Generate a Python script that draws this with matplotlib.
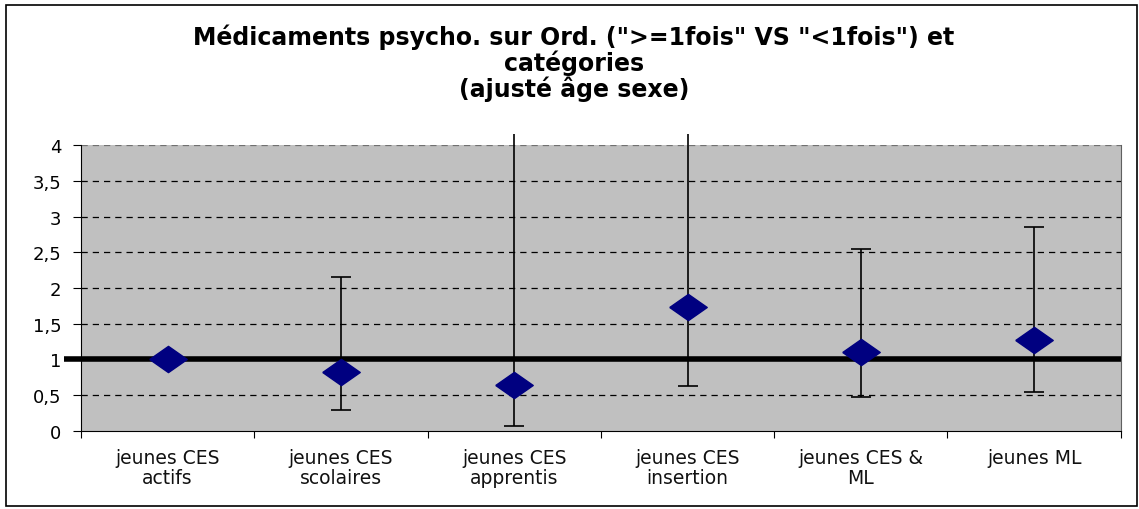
import matplotlib.pyplot as plt
import numpy as np
from matplotlib.patches import Rectangle

plt.rcParams['font.family'] = ['DejaVu Sans']

categories = ['jeunes CES\nactifs', 'jeunes CES\nscolaires', 'jeunes CES\napprentis',
              'jeunes CES\ninsertion', 'jeunes CES &\nML', 'jeunes ML']
odds = [1.0, 0.82, 0.65, 1.73, 1.10, 1.27]
ci_low = [1.0, 0.30, 0.07, 0.63, 0.48, 0.55]
ci_high = [1.0, 2.15, 6.0, 5.5, 2.54, 2.85]   # two upper bounds run off the chart
yticks = [0, 0.5, 1, 1.5, 2, 2.5, 3, 3.5, 4]
ytick_labels = ['0', '0,5', '1', '1,5', '2', '2,5', '3', '3,5', '4']
title = 'Médicaments psycho. sur Ord. (">=1fois" VS "<1fois") et\ncatégories\n(ajusté âge sexe)'

fig = plt.figure(figsize=(11.39, 5.10), dpi=100)
ax = fig.add_axes([0.0711, 0.153, 0.9129, 0.5607])
ax.set_facecolor('#C0C0C0')

# outer frame
fig.patches.append(Rectangle((0.005, 0.006), 0.993, 0.982, transform=fig.transFigure,
                             fill=False, edgecolor='black', linewidth=1.2))

x = np.arange(len(categories))
ax.set_xlim(-0.5, len(categories) - 0.5)
ax.set_ylim(0, 4)

for y in yticks[1:]:
    ax.axhline(y, color='black' if y < 4 else '#707070', linestyle=(0, (5, 4)), linewidth=0.9, zorder=1)

# reference line at 1
ax.plot([-0.016, 1.0], [1, 1], transform=ax.get_yaxis_transform(), color='black',
        linewidth=4, clip_on=False, zorder=2, solid_capstyle='butt')

top = np.minimum(ci_high, 4.15)
ax.vlines(x, ci_low, top, color='black', linewidth=1.2, clip_on=False, zorder=3)
lo = np.array(ci_low)
hi = np.array(ci_high)
has = hi > lo
ax.plot(x[has], lo[has], linestyle='none', marker='_', markersize=14, markeredgewidth=1.2,
        color='black', zorder=3)
closed = has & (hi <= 4)
ax.plot(x[closed], hi[closed], linestyle='none', marker='_', markersize=14, markeredgewidth=1.2,
        color='black', zorder=3)

diamond = [(-1, 0), (0, 0.7), (1, 0), (0, -0.7), (-1, 0)]
ax.plot(x, odds, linestyle='none', marker=diamond, markersize=27, color='#000080', zorder=4)

ax.set_yticks(yticks)
ax.set_yticklabels(ytick_labels, fontsize=13)
ax.set_xticks(np.arange(len(categories) + 1) - 0.5)
ax.set_xticklabels([])
ax.set_xticks(x, minor=True)
ax.set_xticklabels(categories, minor=True, fontsize=13.5, color='#111111', linespacing=1.12)
ax.tick_params(axis='x', which='minor', length=0, pad=12)
ax.tick_params(axis='x', which='major', length=5, direction='out')
ax.tick_params(axis='y', length=6, direction='out', pad=8)

ax.spines['top'].set_visible(False)
ax.spines['right'].set_color('#606060')
ax.spines['left'].set_color('black')
ax.spines['bottom'].set_color('black')

fig.text(0.504, 0.952, title, ha='center', va='top', fontsize=17, fontweight='bold',
         linespacing=1.03)

fig.savefig('out.png', dpi=100)
